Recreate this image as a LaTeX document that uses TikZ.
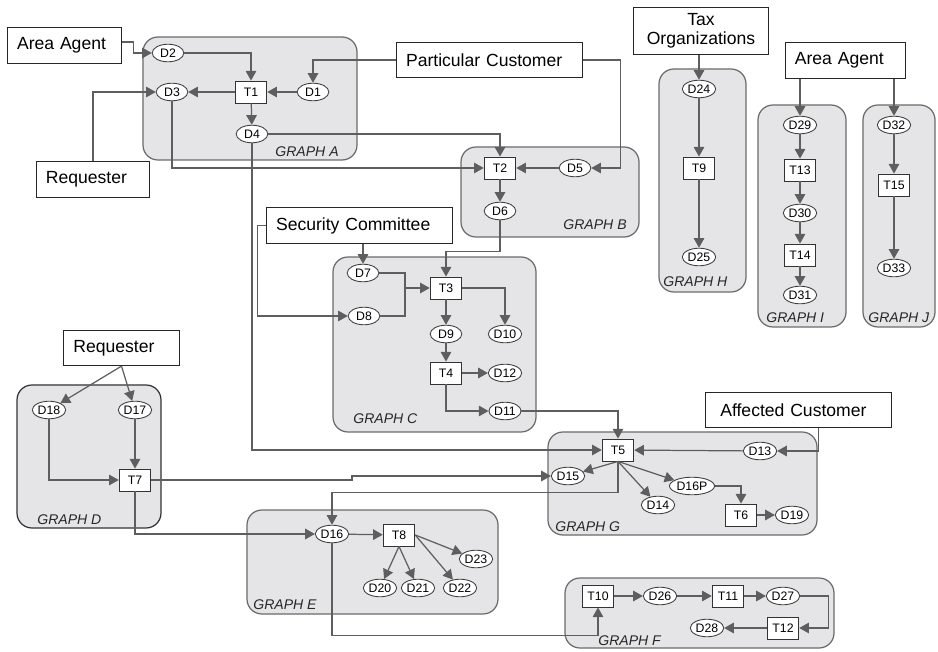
\documentclass[tikz,border=0pt]{standalone}
\usepackage{fontspec}
\setmainfont{Liberation Sans}
\usepackage{tikz}
\usetikzlibrary{shapes.geometric}
\usetikzlibrary{arrows.meta}
\definecolor{boxfill}{rgb}{0.9,0.9,0.91}
\definecolor{boxline}{rgb}{0.42,0.42,0.42}
\definecolor{flowgray}{rgb}{0.37,0.37,0.37}

\begin{document}
\begin{tikzpicture}[x=0.02cm,y=-0.02cm,
  gbox/.style={draw=boxline,fill=boxfill,line width=0.7pt,rounded corners=8.5pt},
  glabel/.style={font=\fontsize{8}{8}\selectfont\itshape,text=black!85,inner sep=0pt},
  dnode/.style={ellipse,draw=black!75,fill=white,line width=0.5pt,inner sep=0.3pt,minimum width=18pt,minimum height=10pt,font=\fontsize{7}{7}\selectfont},
  tnode/.style={rectangle,draw=black!80,fill=white,line width=0.5pt,minimum width=18pt,minimum height=12.5pt,inner sep=0pt,font=\fontsize{7}{7}\selectfont},
  actor/.style={rectangle,draw=black!85,fill=white,line width=0.6pt,inner xsep=5.5pt,inner ysep=0pt,minimum height=20pt,text width=#1,align=left,font=\fontsize{10}{10.5}\selectfont},
  flow/.style={draw=flowgray,line width=0.7pt,-{Triangle[length=5.5pt,width=6pt]}},
  link/.style={draw=flowgray,line width=0.7pt}]
\useasboundingbox (0,0) rectangle (938,652);

% the graph regions
\foreach \xa/\ya/\xb/\yb in {143/37/357/160, 461/147/639/237, 333/257/536/432,
    247/510/498/614, 565/578/834/648, 548/432/817/535,
    659/69/746/292, 758/105/846/327, 863/105/935/327} {
    \draw[gbox] (\xa,\ya) rectangle (\xb,\yb);
}
\draw[gbox,draw=black!80] (17,385) rectangle (161,528);

\node[glabel,anchor=base east] (labA) at (339,157) {GRAPH A};
\node[glabel,anchor=base east] (labB) at (627,230) {GRAPH B};
\node[glabel,anchor=base west] (labC) at (353,423) {GRAPH C};
\node[glabel,anchor=base west] (labD) at (37,524) {GRAPH D};
\node[glabel,anchor=base west] (labE) at (253,609) {GRAPH E};
\node[glabel,anchor=base west] (labF) at (598,645) {GRAPH F};
\node[glabel,anchor=base west] (labG) at (555,531) {GRAPH G};
\node[glabel,anchor=base west] (labH) at (663,287) {GRAPH H};
\node[glabel,anchor=base west] (labI) at (766,323) {GRAPH I};
\node[glabel,anchor=base west] (labJ) at (868,323) {GRAPH J};

% external actors
\node[actor=54pt] (aa1) at (64.5,45.5) {Area Agent};
\node[actor=53.6pt] (req1) at (93,179.5) {Requester};
\node[actor=95pt] (pc) at (489.5,60) {Particular Customer};
\node[actor=95pt] (sc) at (359.5,225.5) {Security Committee};
\node[actor=66pt,align=center,minimum height=27pt] (tax) at (701,31) {Tax\\Organizations};
\node[actor=57.6pt] (aa2) at (845.5,60.5) {Area Agent};
\node[actor=54.7pt] (req2) at (121.5,348) {Requester};
\node[actor=95pt] (ac) at (798.5,410) {\hspace{3pt}Affected Customer};

% data and task nodes
\foreach \n/\x/\y in {D1/313/92, D2/168/53, D3/172/92, D4/252/134, D5/575/168,
    D6/500/211, D7/363/273, D8/364/316, D9/446/334, D10/505/334, D11/505/411,
    D12/505/373, D13/760/451, D14/658/505, D15/568/476, D16/332/534, D16P/692/486,
    D17/135/410, D18/49/410, D19/792/515, D20/380/588, D21/418/588, D22/460/588,
    D23/476/559, D24/699/89, D25/699/257, D26/660/596, D27/783/596, D28/707/628,
    D29/800/125, D30/800/213, D31/800/295, D32/894/125, D33/894/268} {
    \node[dnode] (\n) at (\x,\y) {\n};
}
\foreach \n/\x/\y in {T1/251/92, T2/500/168, T3/446/288, T4/446/373, T5/618/450,
    T6/741/515, T7/135/480, T8/399/535, T9/699/168, T10/598/596, T11/728/596,
    T12/783/628, T13/800/170, T14/800/255, T15/894/185} {
    \node[tnode] (\n) at (\x,\y) {\n};
}

% straight flows
\foreach \a/\b in {D1/T1, T1/D3, T1/D4, D5/T2, T2/D6, T3/D9, D9/T4, T4/D12,
    D17/T7, D16/T8, D13/T5, T6/D19, D24/T9, T9/D25, D29/T13, T13/D30, D30/T14,
    T14/D31, D32/T15, T15/D33, T10/D26, D26/T11, T11/D27, T12/D28} {
    \draw[flow] (\a) -- (\b);
}
\draw[flow] (T8.south) -- (D20);
\draw[flow] (T8.south) -- (D21);
\draw[flow] (T8.east) -- (D22);
\draw[flow] (T8.east) -- (D23);
\draw[flow] (T5.south) -- (D15);
\draw[flow] (T5.south) -- (D14);
\draw[flow] (T5.south) -- (D16P);
\draw[flow] (req2.south) -- (D18);
\draw[flow] (req2.south) -- (D17);

% bent flows
\draw[flow] ([yshift=2pt]aa1.east) -- ++(11,0) |- (D2);
\draw[flow] (req1) |- (D3);
\draw[flow] (pc) -| (D1);
\draw[flow] (pc.east) -- ++(37,0) |- (D5);
\draw[flow] (D2) -| (T1);
\draw[flow] (D3) |- (T2);
\draw[flow] (D4) -| (T2);
\draw[flow] (D4) |- (T5);
\draw[flow] (D7 |- sc.south) -- (D7);
\draw[flow] (sc.west) -- ++(-8,0) |- (D8);
\coordinate (j3) at (405,288);
\draw[link] (D7) -| (j3);
\draw[link] (D8) -| (j3);
\draw[flow] (j3) -- (T3);
\draw[flow] (D6.south) -- ++(0,31) -| (T3);
\draw[flow] (T3) -| (D10);
\draw[flow] (T4) |- (D11);
\draw[flow] (D11) -| (T5);
\draw[flow] (D18) |- (T7);
\draw[flow] (T7.east) -- (352,480) |- (D15);
\draw[flow] (T7) |- (D16);
\draw[flow] (T5.south) -- ++(0,31) -| (D16);
\draw[flow] (D16.south) -- ++(0,92) -| (T10);
\draw[flow] (D16P) -| (T6);
\draw[flow] ([xshift=11.6pt]ac.south) |- (D13);
\draw[flow] (D27.east) -- ++(28,0) |- (T12);
\draw[flow] (D24 |- tax.south) -- (D24);
\draw[flow] (D29 |- aa2.south) -- (D29);
\draw[flow] (D32 |- aa2.south) -- (D32);

\end{tikzpicture}
\end{document}
